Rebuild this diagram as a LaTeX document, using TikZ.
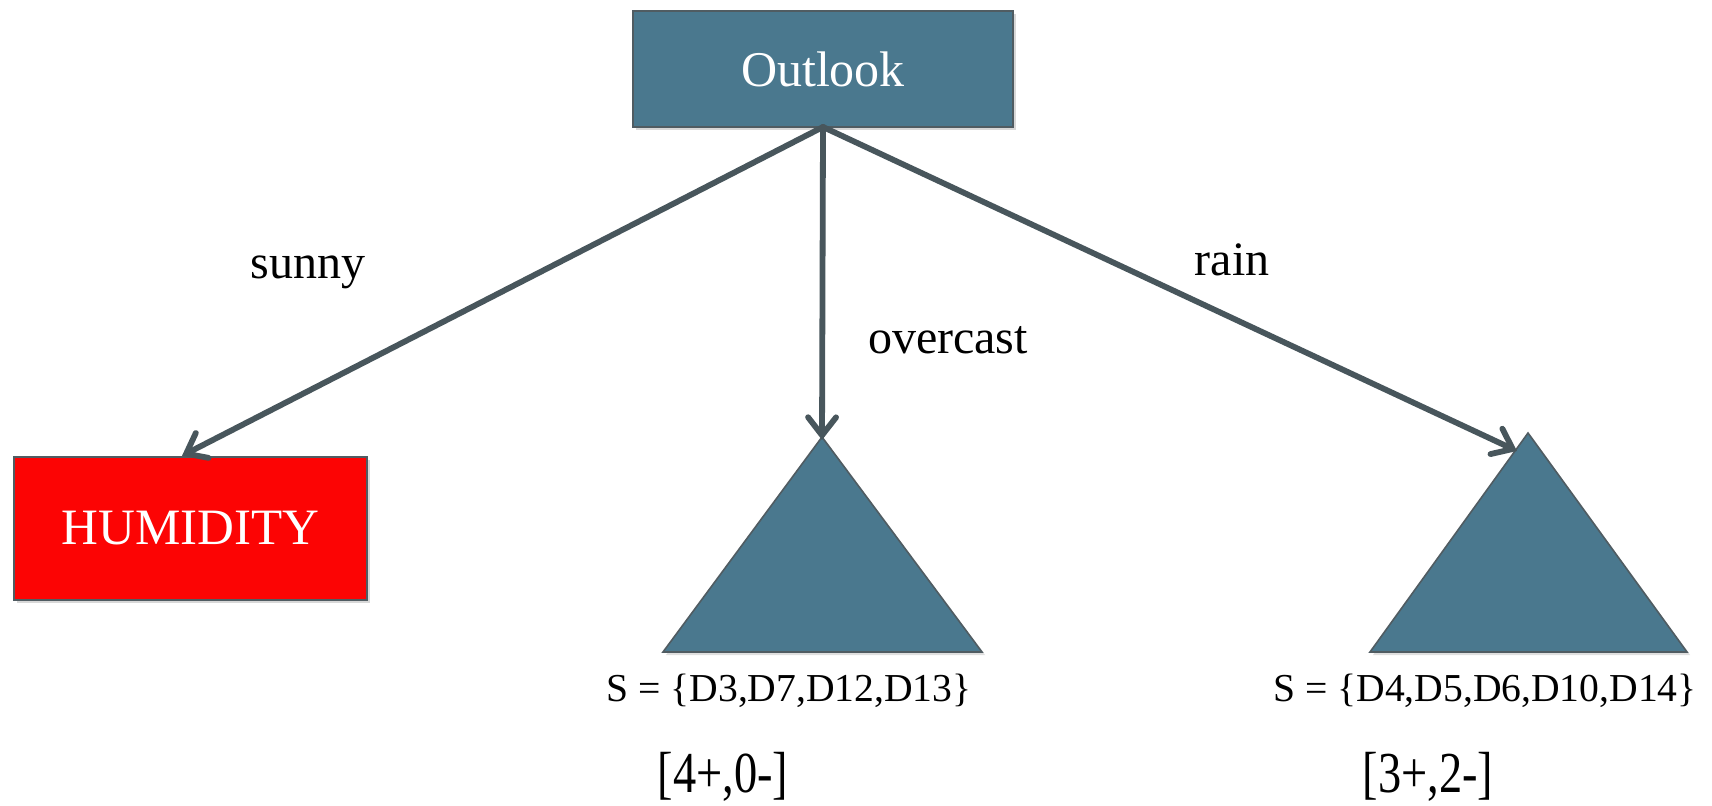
\documentclass[tikz,border=0pt]{standalone}
\usepackage{fontspec}
\setmainfont{Liberation Serif}
\usetikzlibrary{arrows.meta,shadows}
\definecolor{slate}{RGB}{74,120,142}
\definecolor{edgegray}{RGB}{80,92,98}
\definecolor{arrowcol}{RGB}{72,86,92}
\definecolor{humred}{RGB}{252,4,4}
\tikzset{
  boxnode/.style={draw=edgegray, line width=1.2pt, text=white, inner sep=0pt,
    drop shadow={shadow xshift=1.5pt, shadow yshift=-1.5pt, opacity=0.3}},
  trifill/.style={fill=slate, draw=edgegray, line width=0.8pt,
    drop shadow={shadow xshift=1.5pt, shadow yshift=-1.5pt, opacity=0.25}},
  conn/.style={draw=arrowcol, line width=2.9pt, line cap=round,
    -{Straight Barb[length=9pt,width=14pt,line cap=round]}},
  lbl/.style={font=\fontsize{24}{28}\selectfont, text=black},
  setlbl/.style={font=\fontsize{19.8}{24}\selectfont, text=black},
  countlbl/.style={font=\fontsize{29}{33}\selectfont, text=black, xscale=0.8}
}
\begin{document}
\begin{tikzpicture}[x=0.5pt,y=-0.5pt]
\useasboundingbox (0,0) rectangle (1712,806);
\fill[white] (0,0) rectangle (1712,806);
% Root
\node[boxnode, fill=slate, minimum width=190pt, minimum height=58pt,
  font=\fontsize{25}{30}\selectfont] (outlook) at (823,69) {Outlook};
% Humidity
\node[boxnode, fill=humred, minimum width=176.5pt, minimum height=71.5pt,
  font=\fontsize{25.5}{30}\selectfont] (humid) at (190.5,528.5) {HUMIDITY};
% Triangles
\coordinate (apexA) at (822,437);
\coordinate (apexB) at (1528,433);
\path[trifill] (apexA) -- (982,652) -- (663,652) -- cycle;
\path[trifill] (apexB) -- (1687,652) -- (1370,652) -- cycle;
% arrow tips
\coordinate (root) at (823,127);
\coordinate (tipA) at (822,440);
\coordinate (tipB) at (1517,451);
\draw[conn] (root) -- (humid.north -| 182,0) ;
\draw[conn] (root) -- (tipA);
\draw[conn] (root) -- (tipB);
% labels
\node[lbl] (sunny) at (308,272) {sunny};
\node[lbl] (overcast) at (948,340) {overcast};
\node[lbl] (rain) at (1232,260) {rain};
\node[setlbl] (setA) at (789,691) {S = \{D3,D7,D12,D13\}};
\node[setlbl] (setB) at (1485,691) {S = \{D4,D5,D6,D10,D14\}};
\node[countlbl] (cntA) at (723,777) {[4+,0-]};
\node[countlbl] (cntB) at (1428,777) {[3+,2-]};
\end{tikzpicture}
\end{document}
